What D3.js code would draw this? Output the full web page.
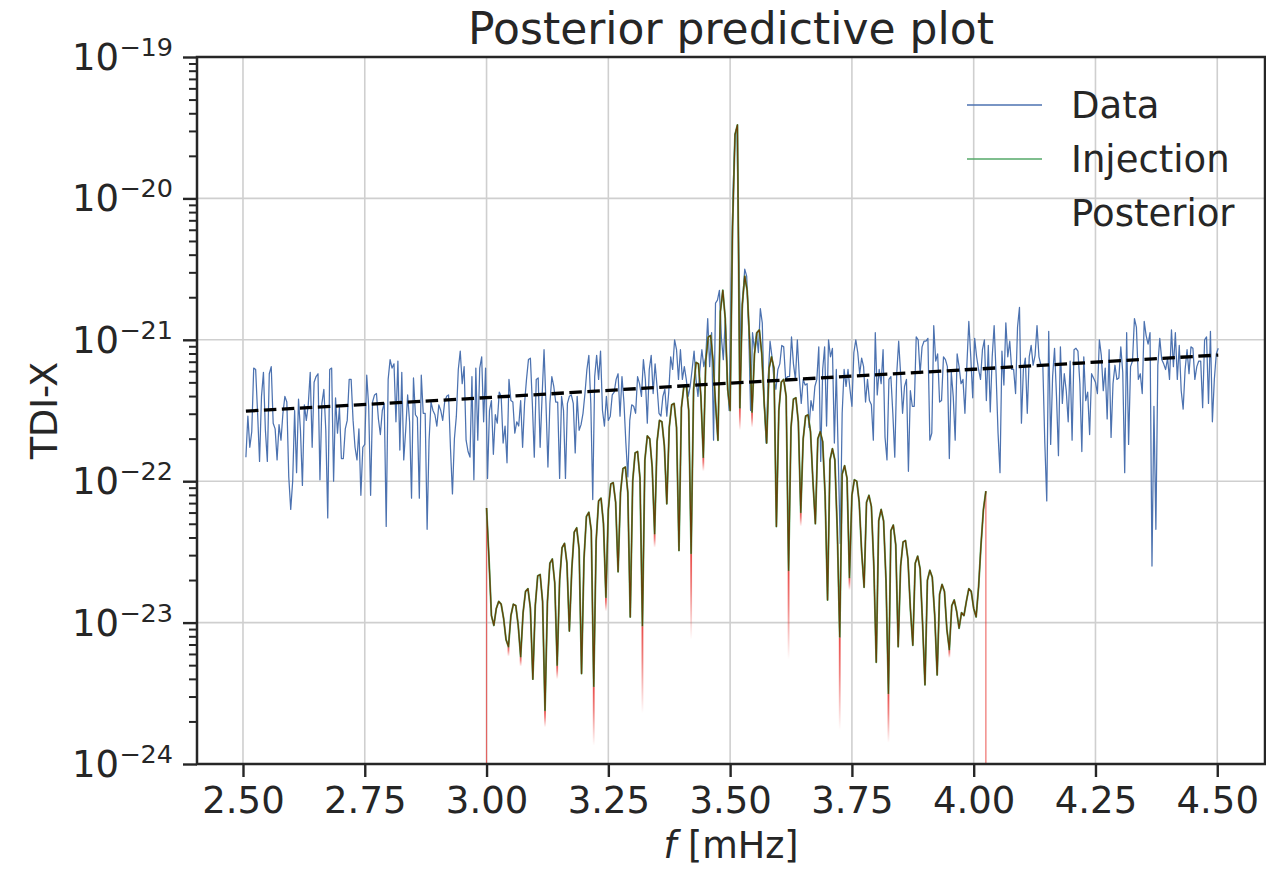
<!DOCTYPE html>
<html><head><meta charset="utf-8">
<script src="https://cdn.jsdelivr.net/npm/d3@7"></script>
<style>
html,body{margin:0;padding:0;background:#fff;}
svg{display:block;font-family:"DejaVu Sans",sans-serif;}
</style></head><body>
<svg id="chart" width="1266" height="873"></svg>
<script>
// ---------------- data ----------------
const xTicks = [2.5, 2.75, 3.0, 3.25, 3.5, 3.75, 4.0, 4.25, 4.5];
const yDecades = [-24, -23, -22, -21, -20, -19];
const legendLabels = ["Data", "Injection", "Posterior"];

// Data (blue): log10 amplitude on a uniform frequency grid [mHz]
const dataStartF = 2.506, dataStepF = 0.004;
const dataLogA = [
-21.83,-21.54,-21.76,-21.65,-21.20,-21.21,-21.52,-21.86,-21.40,-21.23,
-21.64,-21.86,-21.24,-21.19,-21.59,-21.63,-21.85,-21.60,-21.71,-21.52,
-21.40,-21.44,-21.97,-22.20,-22.00,-21.50,-21.94,-21.42,-21.64,-22.03,
-21.46,-21.57,-21.46,-21.23,-21.76,-21.30,-21.26,-21.24,-21.99,-21.45,
-21.35,-21.64,-22.26,-21.21,-21.20,-22.00,-21.41,-21.66,-21.48,-21.84,
-21.84,-21.63,-21.57,-21.28,-21.28,-21.57,-21.76,-21.85,-21.63,-22.10,
-21.76,-21.74,-21.25,-21.47,-22.10,-21.44,-21.39,-21.38,-21.56,-21.67,
-21.50,-21.45,-22.32,-21.28,-21.14,-21.20,-21.17,-21.58,-21.15,-21.78,
-21.23,-21.85,-21.64,-21.39,-21.58,-22.12,-21.27,-21.53,-21.55,-22.12,
-21.25,-21.52,-21.52,-22.34,-21.71,-21.44,-21.50,-21.53,-21.61,-21.46,
-21.50,-21.57,-21.44,-21.40,-21.39,-21.77,-22.09,-21.70,-21.54,-21.21,
-21.08,-21.31,-21.19,-21.71,-21.79,-21.83,-21.26,-21.99,-21.20,-21.71,
-21.20,-21.12,-21.58,-21.20,-21.98,-21.50,-21.43,-21.81,-21.53];
const dataLogB = [
-21.59,-21.37,-21.40,-21.73,-21.61,-21.87,-21.28,-21.43,-21.44,-21.66,
-21.58,-21.61,-21.43,-21.76,-21.45,-21.28,-21.14,-21.13,-21.45,-21.83,
-21.28,-21.27,-21.76,-21.40,-21.07,-21.45,-21.90,-21.45,-21.26,-21.33,
-21.44,-21.44,-21.98,-21.40,-21.50,-21.98,-21.45,-21.40,-21.39,-21.45,
-21.80,-21.40,-21.64,-21.60,-21.52,-21.38,-21.21,-21.11,-21.45,-22.13,
-21.26,-21.11,-21.28,-21.08,-21.50,-21.61,-21.40,-21.57,-21.54,-21.39,
-21.37,-21.28,-21.24,-21.54,-21.26,-21.44,-21.73,-21.97,-21.57,-21.46,
-21.47,-21.52,-21.26,-21.31,-21.40,-21.14,-21.28,-21.59,-21.21,-21.11,
-21.38,-21.17,-21.33,-21.52,-21.54,-21.40,-21.35,-21.54,-21.37,-21.12,
-21.21,-21.00,-21.07,-21.28,-21.07,-21.28,-21.19,-21.28,-21.40,-21.33,
-21.21,-21.08,-21.28,-21.40,-21.21,-21.07,-21.19,-21.12,-20.85,-21.19,
-20.95,-21.71,-20.74,-20.72,-20.65,-20.98,-21.14,-20.86,-21.28,-21.50,
-20.60,-19.95,-19.55,-19.50,-20.40,-21.10,-20.70,-20.50,-20.55,-20.91,
-21.50,-20.95,-21.07,-20.95,-21.09,-20.78,-20.88,-21.45,-21.73,-21.28,
-21.01,-21.12,-21.28,-21.35,-21.21,-21.17,-21.04,-21.05,-21.28,-21.26,
-21.26,-20.98,-21.17,-21.28,-21.00,-21.26,-21.45,-21.28,-21.32,-21.31,
-21.62,-21.43,-21.50,-21.33,-21.28,-21.05,-21.86,-21.21,-21.05,-21.61,
-21.00,-21.12,-21.06,-21.73,-21.21,-21.83,-22.44,-21.52,-21.21,-21.33,
-21.21,-21.35,-21.47,-21.09,-21.00,-21.09,-21.24,-21.13,-21.19,-21.44,
-21.28,-21.43];
const dataLogC = [
-21.46,-21.71,-20.95,-21.39,-21.21,-21.31,-21.07,-21.69,-21.85,-21.28,
-21.26,-21.52,-21.83,-21.24,-21.01,-21.24,-21.52,-21.33,-21.28,-21.93,
-21.36,-21.47,-21.47,-20.98,-21.00,-21.24,-21.05,-21.01,-21.01,-20.99,
-21.71,-21.66,-20.90,-21.15,-21.10,-21.44,-21.43,-21.12,-21.14,-21.19,
-21.84,-21.23,-21.40,-21.71,-21.10,-21.19,-21.31,-21.28,-21.52,-21.18,
-20.87,-21.12,-21.41,-20.99,-21.12,-21.21,-21.28,-21.07,-21.00,-21.43,
-21.04,-21.51,-21.12,-20.90,-21.24,-21.66,-21.94,-21.08,-21.32,-20.88,
-21.12,-21.01,-21.21,-21.21,-21.38,-20.91,-20.77,-21.59,-21.21,-21.13,
-21.52,-21.12,-21.04,-21.18,-21.11,-20.90,-21.12,-21.18,-21.19,-21.73,
-22.14,-20.94,-21.74,-21.26,-21.06,-21.40,-21.82,-21.05,-21.45,-21.24,
-21.36,-21.58,-21.15,-21.71,-21.07,-21.06,-21.08,-21.31,-21.79,-21.12,
-21.43,-21.37,-21.67,-21.24,-21.27,-21.30,-21.38,-21.00,-21.11,-21.36,
-21.20,-21.56,-21.07,-21.69,-21.31,-21.18,-21.28,-21.27,-21.05,-21.23,
-21.94,-20.95,-21.74,-21.19,-21.15,-20.85,-20.91,-21.28,-21.24,-21.38,
-20.87,-20.97,-21.03,-20.95,-22.60,-21.47,-22.34,-21.18,-20.99,-21.14,
-21.17,-21.21,-21.13,-21.28,-20.93,-21.19,-20.95,-21.28,-21.04,-21.36,
-21.49,-21.21,-21.07,-21.24,-21.05,-21.06,-21.28,-21.19,-21.15,-21.15,
-21.48,-21.00,-20.98,-21.45,-20.94,-21.58,-21.28,-21.10,-21.06];
const dataLog10 = dataLogA.concat(dataLogB, dataLogC);

// Injection (green) / posterior median (dark): log10 amplitude, uniform grid
const injStartF = 3.0, injStepF = 0.005;
const injectionLog10 = [
-22.19,-22.55,-22.95,-23.02,-22.90,-22.85,-22.87,-22.97,-23.12,-23.17,
-22.95,-22.87,-22.88,-23.02,-23.24,-22.93,-22.78,-22.76,-22.90,-23.40,
-22.88,-22.67,-22.66,-22.85,-23.62,-22.85,-22.58,-22.55,-22.72,-23.30,
-22.70,-22.47,-22.44,-22.58,-23.06,-22.62,-22.36,-22.33,-22.48,-23.36,
-22.55,-22.25,-22.22,-22.35,-23.45,-22.42,-22.14,-22.12,-22.30,-22.82,
-22.20,-22.02,-22.01,-22.15,-22.64,-22.08,-21.91,-21.90,-22.08,-22.96,
-22.00,-21.80,-21.79,-21.98,-23.02,-21.85,-21.68,-21.70,-21.90,-22.37,
-21.72,-21.57,-21.58,-21.75,-22.16,-21.62,-21.46,-21.45,-21.62,-22.49,
-21.48,-21.33,-21.32,-21.50,-22.51,-21.35,-21.16,-21.17,-21.40,-21.83,
-21.15,-20.98,-20.97,-21.15,-21.45,-21.71,-20.80,-20.65,-20.85,-21.35,
-21.50,-20.20,-19.55,-19.48,-21.48,-20.75,-20.55,-20.65,-21.00,-21.51,
-21.10,-20.95,-20.93,-21.10,-21.45,-21.73,-21.20,-21.12,-21.20,-22.32,
-21.50,-21.30,-21.28,-21.40,-22.63,-21.62,-21.42,-21.41,-21.58,-22.22,
-21.70,-21.54,-21.53,-21.65,-22.00,-22.30,-21.70,-21.65,-21.72,-22.10,
-22.84,-21.85,-21.77,-21.85,-22.35,-23.10,-21.95,-21.89,-21.98,-22.68,
-22.10,-21.99,-22.00,-22.15,-22.50,-22.75,-22.15,-22.10,-22.18,-22.60,
-23.28,-22.28,-22.20,-22.28,-22.70,-23.50,-22.35,-22.31,-22.45,-23.17,
-22.60,-22.43,-22.42,-22.55,-22.90,-23.16,-22.58,-22.53,-22.62,-23.00,
-23.44,-22.70,-22.63,-22.68,-22.95,-23.37,-22.80,-22.73,-22.78,-23.05,
-23.19,-22.88,-22.84,-22.92,-23.04,-22.93,-22.95,-22.85,-22.76,-22.78,
-22.90,-22.96,-22.75,-22.45,-22.20,-22.07];

// Posterior: lower extent reached by posterior samples at some nulls
const posteriorTailF = [3.045,3.070,3.120,3.145,3.220,3.245,3.320,3.345,3.420,3.445,3.520,3.545,3.620,3.645,3.725,3.745,3.825,3.950];
const posteriorTailLog10 = [-23.24,-23.31,-23.74,-23.40,-23.87,-22.92,-23.64,-22.47,-23.12,-21.93,-21.64,-21.62,-23.26,-22.32,-23.76,-22.77,-23.85,-23.25];
// Posterior band edges (drops to zero outside the band)
const posteriorEdgeF = [3.0, 4.025];

// Noise PSD (dashed)
const noiseF = [2.506, 3.0, 3.5, 4.0, 4.502];
const noisePSD = [3.13e-22, 3.9e-22, 4.94e-22, 6.19e-22, 7.8e-22];

// ---------------- chart ----------------
const svg = d3.select("#chart");
const L = 197, R = 1265, T = 57, B = 764;
const ink = "#262626";
const cBlue = "#4c72b0", cGreen = "#55a868", cRed = "#e8403c", cBrown = "#684006";

const x = d3.scaleLinear().domain([2.4056, 4.598]).range([L, R]);
const y = d3.scaleLog().domain([1e-24, 1e-19]).range([B, T]);

const defs = svg.append("defs");
defs.append("clipPath").attr("id", "plotclip").append("rect")
  .attr("x", L).attr("y", T).attr("width", R - L).attr("height", B - T);
const grad = defs.append("linearGradient").attr("id", "tailGrad")
  .attr("x1", 0).attr("y1", 0).attr("x2", 0).attr("y2", 1);
grad.append("stop").attr("offset", "0").attr("stop-color", cRed).attr("stop-opacity", 0.95);
grad.append("stop").attr("offset", "0.4").attr("stop-color", cRed).attr("stop-opacity", 0.65);
grad.append("stop").attr("offset", "1").attr("stop-color", cRed).attr("stop-opacity", 0);

// grid
const grid = svg.append("g");
grid.selectAll("line.gx").data(xTicks).join("line")
  .attr("x1", d => x(d)).attr("x2", d => x(d)).attr("y1", T).attr("y2", B)
  .attr("stroke", "#cfcfcf").attr("stroke-width", 1.6);
grid.selectAll("line.gy").data(yDecades).join("line")
  .attr("y1", d => y(Math.pow(10, d))).attr("y2", d => y(Math.pow(10, d))).attr("x1", L).attr("x2", R)
  .attr("stroke", "#cfcfcf").attr("stroke-width", 1.6);

const plot = svg.append("g").attr("clip-path", "url(#plotclip)");
const line = d3.line().x(d => x(d.f)).y(d => y(d.v));

const dataPts = dataLog10.map((v, i) => ({ f: dataStartF + i * dataStepF, v: Math.pow(10, v) }));
const injPts = injectionLog10.map((v, i) => ({ f: injStartF + i * injStepF, v: Math.pow(10, v) }));
const injAt = f => injPts[Math.round((f - injStartF) / injStepF)].v;

plot.append("path").datum(dataPts).attr("d", line)
  .attr("fill", "none").attr("stroke", cBlue).attr("stroke-width", 1.25).attr("stroke-linejoin", "round");

// posterior tails
plot.selectAll("rect.tail").data(posteriorTailF).join("rect")
  .attr("x", f => x(f) - 0.9).attr("width", 1.8)
  .attr("y", f => y(injAt(f)))
  .attr("height", (f, i) => y(Math.pow(10, posteriorTailLog10[i])) - y(injAt(f)))
  .attr("fill", "url(#tailGrad)");
plot.selectAll("line.edge").data(posteriorEdgeF).join("line")
  .attr("x1", f => x(f)).attr("x2", f => x(f))
  .attr("y1", f => y(injAt(f))).attr("y2", y.range()[0])
  .attr("stroke", cRed).attr("stroke-opacity", 0.75).attr("stroke-width", 1.2);

plot.append("path").datum(injPts).attr("d", line)
  .attr("fill", "none").attr("stroke", cGreen).attr("stroke-width", 1.9).attr("stroke-linejoin", "round");
plot.append("path").datum(injPts).attr("d", line)
  .attr("fill", "none").attr("stroke", cBrown).attr("stroke-width", 1.25).attr("stroke-linejoin", "round");

const noisePts = noiseF.map((f, i) => ({ f: f, v: noisePSD[i] }));
plot.append("path").datum(noisePts).attr("d", line)
  .attr("fill", "none").attr("stroke", "#000").attr("stroke-width", 3.3).attr("stroke-dasharray", "12.5,5.5");

// axes
const yMajor = yDecades.map(d => Math.pow(10, d));
const yMinor = [];
yDecades.slice(0, -1).forEach(d => { for (let m = 2; m <= 9; m++) yMinor.push(m * Math.pow(10, d)); });

const gyMaj = svg.append("g").attr("transform", `translate(${L},0)`)
  .call(d3.axisLeft(y).tickValues(yMajor).tickSize(14).tickFormat(() => ""));
const gyMin = svg.append("g").attr("transform", `translate(${L},0)`)
  .call(d3.axisLeft(y).tickValues(yMinor).tickSize(8).tickFormat(() => ""));
const gx = svg.append("g").attr("transform", `translate(0,${B})`)
  .call(d3.axisBottom(x).tickValues(xTicks).tickSize(13).tickPadding(10).tickFormat(d3.format(".2f")));
[gyMaj, gyMin, gx].forEach(g => {
  g.select(".domain").remove();
  g.selectAll(".tick line").attr("stroke", ink).attr("stroke-width", 2.4);
});
gyMin.selectAll(".tick line").attr("stroke-width", 2);
gx.selectAll(".tick text").attr("font-size", 37).attr("fill", ink).attr("font-family", "DejaVu Sans");

// y tick labels: 10^n
const ylab = svg.append("g");
yDecades.forEach(d => {
  const t = ylab.append("text").attr("x", 173).attr("y", y(Math.pow(10, d)) + 13)
    .attr("text-anchor", "end").attr("fill", ink);
  t.append("tspan").attr("font-size", 37).text("10");
  t.append("tspan").attr("font-size", 25.5).attr("dy", -14).text("\u2212" + Math.abs(d));
});

// spines
svg.append("rect").attr("x", L).attr("y", T).attr("width", R - L).attr("height", B - T)
  .attr("fill", "none").attr("stroke", ink).attr("stroke-width", 2.5);

// labels
svg.append("text").attr("x", (L + R) / 2).attr("y", 44).attr("text-anchor", "middle")
  .attr("font-size", 44).attr("fill", ink).text("Posterior predictive plot");
const xl = svg.append("text").attr("x", (L + R) / 2).attr("y", 858).attr("text-anchor", "middle")
  .attr("font-size", 36.5).attr("fill", ink);
xl.append("tspan").attr("font-style", "italic").text("f");
xl.append("tspan").text(" [mHz]");
svg.append("text").attr("transform", `translate(57,${(T + B) / 2}) rotate(-90)`)
  .attr("text-anchor", "middle").attr("font-size", 36.5).attr("fill", ink).text("TDI-X");

// legend
const legColors = [cBlue, cGreen, null];
const leg = svg.append("g");
legendLabels.forEach((lab, i) => {
  const by = 118 + 54 * i;
  if (legColors[i]) {
    leg.append("line").attr("x1", 967).attr("x2", 1042).attr("y1", by - 13).attr("y2", by - 13)
      .attr("stroke", legColors[i]).attr("stroke-width", 1.3);
  }
  leg.append("text").attr("x", 1071).attr("y", by).attr("font-size", 37).attr("fill", ink).text(lab);
});
</script>
</body></html>
